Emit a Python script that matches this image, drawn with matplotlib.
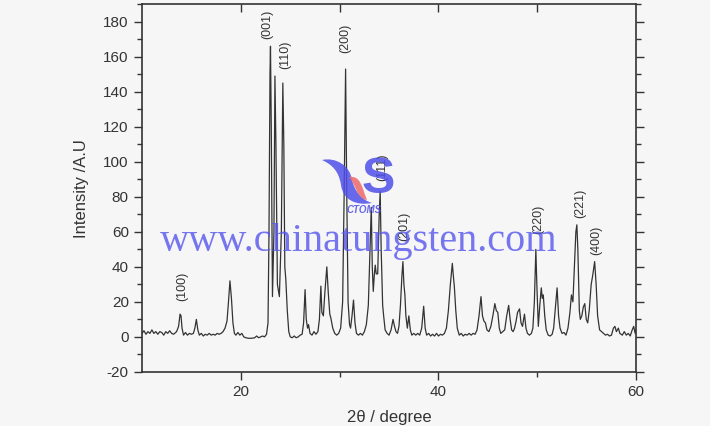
import matplotlib
matplotlib.use("Agg")
import matplotlib.pyplot as plt
from matplotlib.patches import PathPatch
from matplotlib.path import Path

# XRD trace (2theta in degree, intensity in A.U)
two_theta = [
    10.0, 10.2, 10.4, 10.6, 10.8, 11.0, 11.2, 11.4, 11.6, 11.8, 12.0, 12.2, 12.4, 12.6, 12.8,
    13.0, 13.2, 13.5, 13.7, 13.85, 13.95, 14.05, 14.2, 14.4, 14.6, 14.8, 15.0, 15.2, 15.35,
    15.5, 15.65, 15.8, 16.0, 16.2, 16.4, 16.6, 16.8, 17.0, 17.2, 17.4, 17.6, 17.8, 18.0, 18.2,
    18.4, 18.6, 18.75, 18.9, 19.05, 19.2, 19.35, 19.5, 19.7, 19.9, 20.1, 20.3, 20.5, 20.8,
    21.1, 21.4, 21.6, 21.8, 22.0, 22.2, 22.4, 22.6, 22.75, 22.85, 22.95, 23.0, 23.08, 23.2,
    23.35, 23.45, 23.55, 23.7, 23.9, 24.1, 24.25, 24.35, 24.45, 24.55, 24.7, 24.85, 25.0,
    25.2, 25.4, 25.6, 25.8, 26.0, 26.2, 26.35, 26.5, 26.62, 26.75, 26.85, 27.0, 27.2, 27.4,
    27.6, 27.8, 27.95, 28.1, 28.2, 28.35, 28.5, 28.7, 28.85, 29.0, 29.1, 29.3, 29.5, 29.7,
    29.9, 30.1, 30.3, 30.45, 30.6, 30.72, 30.85, 31.0, 31.1, 31.25, 31.4, 31.55, 31.7, 31.9,
    32.1, 32.3, 32.5, 32.7, 32.9, 33.05, 33.2, 33.3, 33.4, 33.5, 33.6, 33.7, 33.85, 34.0,
    34.1, 34.2, 34.35, 34.45, 34.6, 34.8, 35.0, 35.2, 35.4, 35.55, 35.7, 35.85, 36.0, 36.15,
    36.3, 36.4, 36.5, 36.6, 36.7, 36.85, 37.0, 37.15, 37.3, 37.5, 37.7, 37.9, 38.1, 38.3,
    38.5, 38.65, 38.8, 39.0, 39.2, 39.4, 39.6, 39.8, 40.0, 40.2, 40.4, 40.6, 40.8, 41.0,
    41.2, 41.4, 41.5, 41.6, 41.75, 41.9, 42.1, 42.3, 42.5, 42.7, 42.9, 43.1, 43.3, 43.5,
    43.7, 43.9, 44.1, 44.3, 44.45, 44.6, 44.75, 44.9, 45.1, 45.3, 45.5, 45.7, 45.85, 46.0,
    46.15, 46.3, 46.5, 46.7, 46.9, 47.1, 47.25, 47.4, 47.55, 47.7, 47.85, 48.0, 48.2, 48.35,
    48.5, 48.7, 48.85, 49.0, 49.2, 49.4, 49.55, 49.7, 49.85, 49.95, 50.1, 50.25, 50.4, 50.5,
    50.6, 50.75, 50.9, 51.1, 51.3, 51.5, 51.65, 51.85, 52.0, 52.15, 52.3, 52.5, 52.7, 52.9,
    53.1, 53.3, 53.45, 53.6, 53.75, 53.9, 54.0, 54.1, 54.25, 54.35, 54.5, 54.65, 54.8, 54.95,
    55.1, 55.25, 55.45, 55.6, 55.8, 55.95, 56.1, 56.3, 56.5, 56.7, 56.9, 57.1, 57.3, 57.5,
    57.7, 57.85, 58.0, 58.2, 58.35, 58.6, 58.8, 59.0, 59.2, 59.4, 59.6, 59.75, 59.9, 60.0,
]
intensity = [
    2, 3.5, 1.5, 3, 2, 4, 2, 3, 1.5, 3, 2.5, 1, 3, 2, 3.5,
    2, 1.5, 3, 6, 13, 12, 5, 1, 2.5, 1, 2, 1.5, 2, 5,
    10, 4, 1, 2, 0.5, 1.5, 1, 2, 1, 1.5, 1, 2, 1.5, 2, 3,
    5, 9, 20, 32, 22, 8, 2, 1, 2.5, 1, 2, 0, -0.5, -0.8,
    -0.8, -0.5, 0.5, -0.5, 0, 0.5, 0, 1.5, 8, 60, 150, 166, 120, 23,
    60, 149, 110, 30, 23, 60, 145, 110, 40, 33, 15, 3, 0,
    -0.5, 0.5, -0.5, 0, 1, 1.5, 8, 27, 10, 5, 7, 2, 1, 3,
    1.5, 3, 10, 29, 14, 12, 25, 40, 25, 13, 11, 5, 2, 1,
    2, 5, 20, 80, 153, 80, 20, 7, 5, 12, 21, 8, 2, 1,
    2, 1, 3, 7, 18, 45, 74, 40, 26, 35, 41, 36, 36, 70,
    83, 50, 18, 12, 4, 2, 1, 4, 10, 6, 3, 2, 6, 18,
    35, 43, 30, 24, 12, 5, 12, 4, 1, 2, 1, 2, 1, 5,
    17.5, 5, 1, 2, 0.5, 1.5, 0.5, 2, 0.5, 1.5, 1, 2, 5, 15,
    30, 42, 35, 29, 15, 5, 1, 2, 0.5, 1.5, 1, 2, 1, 2,
    1.5, 4, 12, 23, 12, 9, 8, 4, 3, 6, 12, 19, 15, 14,
    5, 2, 3, 4, 12, 18, 10, 4, 3, 5, 9, 14, 16, 8,
    6, 13, 5, 2, 1, 2, 5, 20, 50, 30, 6, 18, 28, 22,
    24, 12, 4, 1, 0.5, 1.5, 5, 18, 28, 12, 5, 2, 2.5, 1,
    5, 14, 24, 20, 40, 60, 64, 50, 15, 10, 12, 17, 19, 10,
    8, 15, 30, 35, 43, 30, 12, 4, 3, 2, 1, 1.5, 0.5, 1,
    5, 6, 3, 5, 2, 1, 3, 1, 2, 0.5, 4, 6, 2, 4,
]

# Miller indices and where their labels sit
hkl_labels = ["(100)", "(001)", "(110)", "(200)", "(111)", "(201)", "(220)", "(221)", "(400)"]
hkl_x = [14.1, 22.7, 24.5, 30.6, 34.3, 36.5, 50.05, 54.3, 56.0]
hkl_y = [20.5, 170, 153, 162, 89, 55, 59, 68, 47]

bg = "#f6f6f6"
ink = "#333333"
logo_blue = "#4f4fe8"

plt.rcParams["font.family"] = ["Liberation Sans", "DejaVu Sans"]
plt.rcParams["axes.unicode_minus"] = False

fig = plt.figure(figsize=(7.10, 4.26), dpi=100, facecolor=bg)
ax = fig.add_axes([0.2, 0.127, 0.696, 0.863])
ax.set_facecolor(bg)

ax.plot(two_theta, intensity, color=ink, lw=0.9)

for lab, x, y in zip(hkl_labels, hkl_x, hkl_y):
    ax.text(x, y, lab, rotation=90, ha="center", va="bottom", fontsize=9, color=ink)

ax.set_xlim(10, 60)
ax.set_ylim(-20, 190)
ax.set_xticks([20, 40, 60])
ax.set_xticks([30, 50], minor=True)
ax.set_yticks(range(-20, 181, 20))
ax.set_yticks(range(-10, 191, 10), minor=True)

ax.tick_params(axis="both", which="major", labelsize=11, colors=ink, length=6, width=1,
               direction="out")
ax.tick_params(axis="both", which="minor", colors=ink, length=3.5, width=1, direction="out")
ax.tick_params(axis="y", which="both", right=True)
for sp in ax.spines.values():
    sp.set_color(ink)
    sp.set_linewidth(1.2)

# top edge carries short inward ticks only
top = ax.secondary_xaxis("top")
top.set_xticks([20, 30, 40, 50])
top.tick_params(direction="in", length=6, width=1, colors=ink, labeltop=False)
top.spines["top"].set_visible(False)

ax.set_xlabel("2\u03b8 / degree", fontsize=12, color=ink, labelpad=8)
ax.set_ylabel("Intensity /A.U", fontsize=12, color=ink, labelpad=10)

# watermark
def px(x, y):
    return (x / 710, 1 - y / 426)

fig.text(0.225, 0.434, "www.chinatungsten.com", fontsize=29, color="#5555ee",
         family=["Liberation Serif"], alpha=0.8, va="center", ha="left")

left_swoosh = Path([px(322, 160), px(335, 157), px(350, 165), px(352, 180),
                    px(355, 192), px(362, 200), px(372, 203),
                    px(356, 206), px(343, 200), px(341, 185),
                    px(339, 172), px(333, 165), px(322, 160)],
                   [Path.MOVETO] + [Path.CURVE4] * 12)
fig.patches.append(PathPatch(left_swoosh, transform=fig.transFigure, fc=logo_blue,
                             ec="none", alpha=0.85))
pink_swoosh = Path([px(349, 177), px(361, 175), px(362, 188), px(367, 200),
                    px(356, 198), px(357, 186), px(349, 177)],
                   [Path.MOVETO] + [Path.CURVE4] * 6)
fig.patches.append(PathPatch(pink_swoosh, transform=fig.transFigure, fc="#f07070",
                             ec="none", alpha=0.9))
fig.text(*px(378, 180), "S", fontsize=36, color=logo_blue, weight="bold",
         alpha=0.85, ha="center", va="center")
fig.text(*px(364, 210), "CTOMS", fontsize=7, color=logo_blue, style="italic",
         weight="bold", alpha=0.85, ha="center", va="center")

fig.savefig("out.png", dpi=100, facecolor=bg)
